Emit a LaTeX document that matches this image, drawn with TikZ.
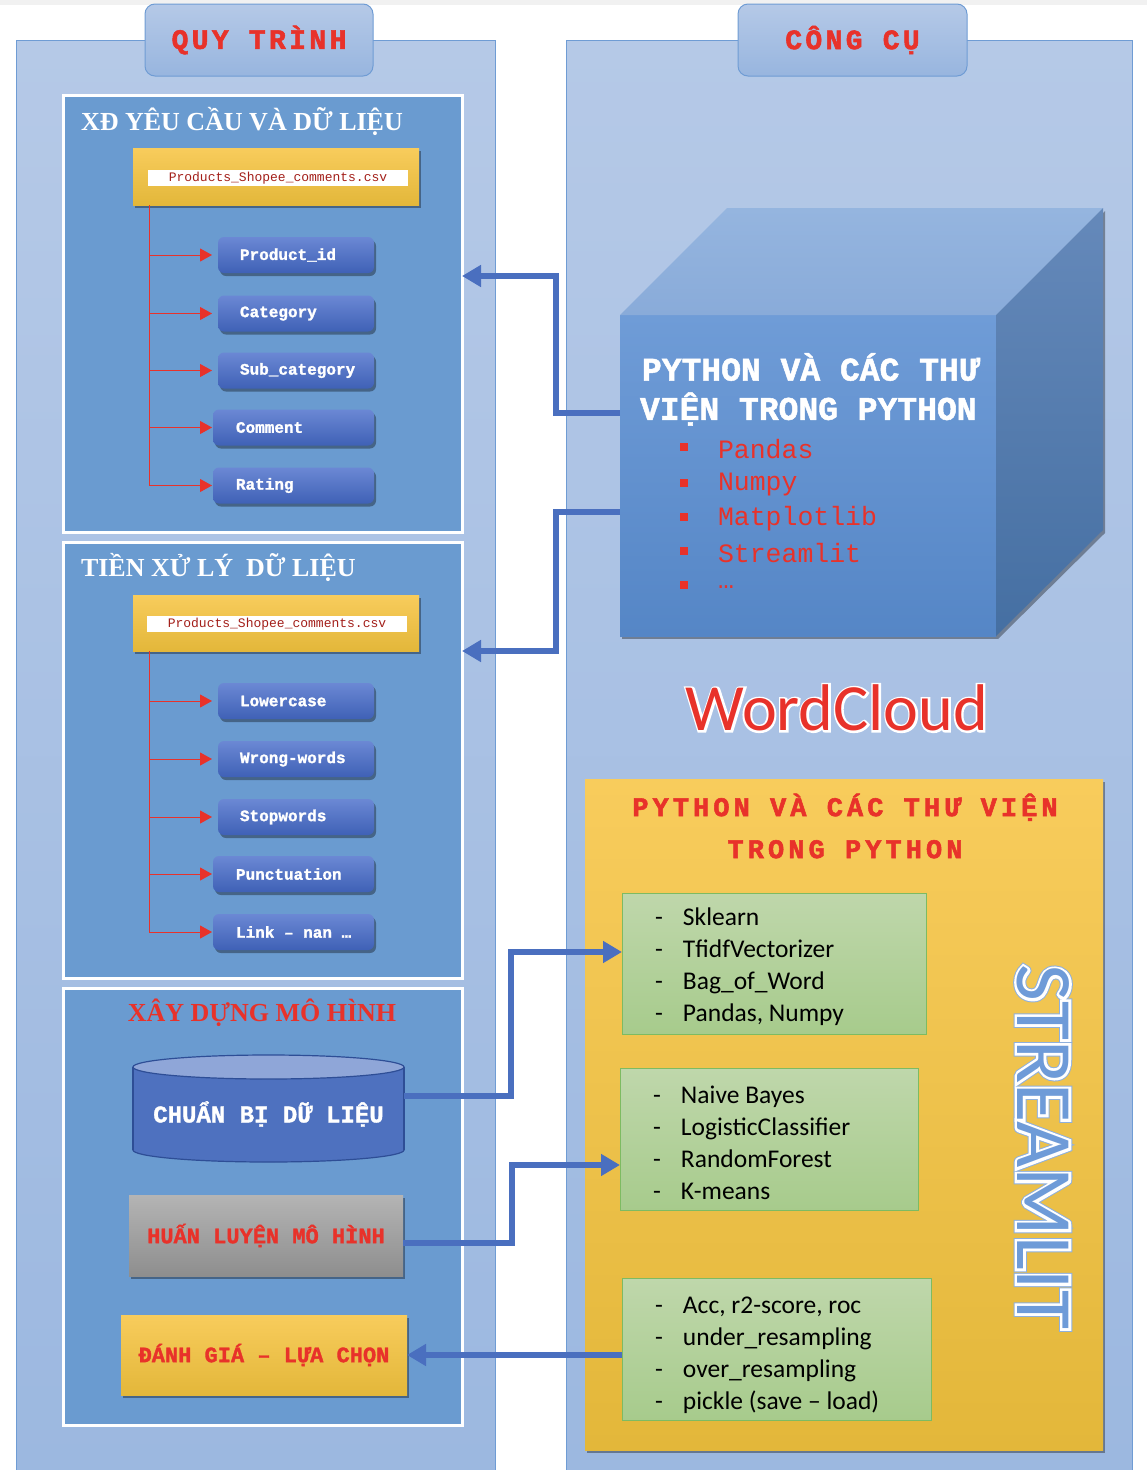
\documentclass[tikz,border=0pt]{standalone}
\usepackage{fontspec}
\setmainfont{Liberation Serif}
\newfontfamily\monof{Liberation Mono}[BoldFeatures={FakeBold=1.5}]
\newfontfamily\monols{Liberation Mono}[LetterSpace=15,BoldFeatures={FakeBold=2}]
\newfontfamily\monohd{Liberation Mono}[LetterSpace=12,BoldFeatures={FakeBold=2}]
\newfontfamily\calib{Carlito}
\newfontfamily\calibwc{Carlito}[FakeBold=6]
\newfontfamily\calibsw{Carlito}[FakeBold=6.5]
\newfontfamily\calibso{Carlito}[FakeBold=9]
\usetikzlibrary{arrows.meta,shadows}
\definecolor{bgstrip}{HTML}{F1F1F1}
\definecolor{panelTop}{HTML}{B5C9E7}
\definecolor{panelBot}{HTML}{9CB8E0}
\definecolor{panelLine}{HTML}{6F9CD4}
\definecolor{innerFill}{HTML}{6A9BD0}
\definecolor{myred}{HTML}{E8322A}
\definecolor{csvred}{HTML}{A31F1A}
\definecolor{yTop}{HTML}{F8CC5C}
\definecolor{yBot}{HTML}{E3B73A}
\definecolor{btnTop}{HTML}{6B88D4}
\definecolor{btnBot}{HTML}{3F61B6}
\definecolor{arrBlue}{HTML}{4A6FBF}
\definecolor{cubeFTop}{HTML}{6F9CD7}
\definecolor{cubeFBot}{HTML}{5586C6}
\definecolor{cubeTTop}{HTML}{95B5DF}
\definecolor{cubeTBot}{HTML}{89ABD9}
\definecolor{cubeRTop}{HTML}{6589BA}
\definecolor{cubeRBot}{HTML}{456FA2}
\definecolor{gTop}{HTML}{BFD7AB}
\definecolor{gBot}{HTML}{A7CB8C}
\definecolor{gLine}{HTML}{7DBB62}
\definecolor{grayTop}{HTML}{B4B4B4}
\definecolor{grayBot}{HTML}{8E8E8E}
\definecolor{cylBody}{HTML}{4E71BF}
\definecolor{cylTop}{HTML}{8FA6D8}
\definecolor{cylLine}{HTML}{2E4E96}
\definecolor{stFill}{HTML}{6E9BD8}
\definecolor{stOut}{HTML}{8FB0DC}
\newcommand\fsz[1]{\fontsize{#1}{#1}\selectfont}
\newcommand\dl{\makebox[28pt][l]{-}}
\tikzset{
  sh/.style={drop shadow={shadow xshift=2pt,shadow yshift=-3pt,opacity=0.35,fill=black}},
  panel/.style={draw=panelLine,line width=1pt,top color=panelTop,bottom color=panelBot},
  hdr/.style={draw=panelLine,line width=1pt,rounded corners=10pt,top color=panelTop,bottom color=panelBot!90!panelLine,text=myred,font=\monohd\bfseries\fsz{28}},
  inbox/.style={draw=white,line width=3pt,fill=innerFill},
  ybox/.style={top color=yTop,bottom color=yBot,sh},
  csvlab/.style={fill=white,minimum width=260pt,minimum height=16pt,text=csvred,font=\monof\fsz{13}},
  btn/.style={rounded corners=6pt,top color=btnTop,bottom color=btnBot,sh,minimum height=36pt,text=white,font=\monof\bfseries\fsz{16}},
  redline/.style={draw=myred,line width=1pt},
  redarr/.style={draw=myred,line width=1pt,-{Triangle[length=12pt,width=13pt]}},
  bluearr/.style={draw=arrBlue,line width=6.5pt,line join=miter,-{Triangle[length=19pt,width=21pt]}},
  gbox/.style={draw=gLine,line width=1pt,top color=gTop,bottom color=gBot},
  gtext/.style={anchor=west,align=left,font=\calib\fontsize{25.5}{32}\selectfont},
  bul/.style={fill=myred,minimum size=8pt},
  lib/.style={anchor=west,text=myred,font=\monof\fsz{26.5}},
  ttl/.style={font=\bfseries\fsz{26}},
}
\begin{document}
\begin{tikzpicture}[x=1pt,y=-1pt,every node/.style={inner sep=0pt,outer sep=0pt}]
\useasboundingbox (0,0) rectangle (1147,1470);
\fill[white] (0,0) rectangle (1147,1470);
\fill[bgstrip] (0,0) rectangle (1147,5);

% panels
\node[panel,minimum width=479pt,minimum height=1432pt] (lp) at (255.5,756) {};
\node[panel,minimum width=566pt,minimum height=1432pt] (rp) at (849,756) {};
\node[hdr,minimum width=228pt,minimum height=72pt] (hl) at (259,40) {QUY TRÌNH};
\node[hdr,minimum width=229pt,minimum height=72pt] (hr) at (852.5,40) {CÔNG CỤ};

% inner boxes
\node[inbox,minimum width=399pt,minimum height=437pt] (box1) at (262.5,313.5) {};
\node[inbox,minimum width=399pt,minimum height=436pt] (box2) at (262.5,760) {};
\node[inbox,minimum width=399pt,minimum height=437pt] (box3) at (262.5,1206.5) {};
\node[ttl,anchor=west,text=white] (t1) at (81,121) {XĐ YÊU CẦU VÀ DỮ LIỆU};
\node[ttl,anchor=west,text=white] (t2) at (81,567) {TIỀN XỬ LÝ\ \ DỮ LIỆU};
\node[ttl,text=myred] (t3) at (262,1013) {XÂY DỰNG MÔ HÌNH};

% file boxes
\node[ybox,minimum width=286pt,minimum height=57pt] (f1) at (276,176.5) {};
\node[csvlab] (f1l) at (278,178) {Products\_Shopee\_comments.csv};
\node[ybox,minimum width=286pt,minimum height=56pt] (f2) at (276,623) {};
\node[csvlab] (f2l) at (277,624) {Products\_Shopee\_comments.csv};

% buttons box1
\node[btn] (b1) at (296,255) {\makebox[156pt][l]{\hspace{22pt}Product\_id}};
\node[btn] (b2) at (296,313.5) {\makebox[156pt][l]{\hspace{22pt}Category}};
\node[btn] (b3) at (296,370.5) {\makebox[156pt][l]{\hspace{22pt}Sub\_category}};
\node[btn] (b4) at (293.5,427.5) {\makebox[161pt][l]{\hspace{23pt}Comment}};
\node[btn] (b5) at (293.5,485.5) {\makebox[161pt][l]{\hspace{23pt}Rating}};
% buttons box2
\node[btn] (c1) at (296,701) {\makebox[156pt][l]{\hspace{22pt}Lowercase}};
\node[btn] (c2) at (296,759) {\makebox[156pt][l]{\hspace{22pt}Wrong-words}};
\node[btn] (c3) at (296,817) {\makebox[156pt][l]{\hspace{22pt}Stopwords}};
\node[btn] (c4) at (293.5,874) {\makebox[161pt][l]{\hspace{23pt}Punctuation}};
\node[btn] (c5) at (293.5,932) {\makebox[161pt][l]{\hspace{23pt}Link – nan …}};

% red trees
\coordinate (tip) at (212,0);
\coordinate (tr1) at ([xshift=16pt]f1.south west);
\draw[redline] (tr1) -- (tr1 |- b5.west);
\foreach \b in {b1,b2,b3,b4,b5}{\draw[redarr] (tr1 |- \b.west) -- (\b.west -| tip);}
\coordinate (tr2) at ([xshift=16pt]f2.south west);
\draw[redline] (tr2) -- (tr2 |- c5.west);
\foreach \b in {c1,c2,c3,c4,c5}{\draw[redarr] (tr2 |- \b.west) -- (\b.west -| tip);}

% cylinder
\filldraw[fill=cylBody,draw=cylLine,line width=1.2pt] (268.5,1150) ellipse [x radius=135.5,y radius=12];
\fill[cylBody] (133,1067) rectangle (404,1150);
\draw[cylLine,line width=1.2pt] (133,1067) -- (133,1150) (404,1067) -- (404,1150);
\filldraw[fill=cylTop,draw=cylLine,line width=1.2pt] (268.5,1067) ellipse [x radius=135.5,y radius=12];
\node[minimum width=271pt,minimum height=60pt] (cyl) at (268.5,1096) {};
\node[text=white,font=\monof\bfseries\fsz{24}] (cyltxt) at (268.5,1114) {CHUẨN BỊ DỮ LIỆU};

% training / evaluation
\node[top color=grayTop,bottom color=grayBot,sh,minimum width=274pt,minimum height=81pt,text=myred,font=\monof\bfseries\fsz{22}] (hb) at (266,1235.5) {HUẤN LUYỆN MÔ HÌNH};
\node[ybox,minimum width=286pt,minimum height=80pt,text=myred,font=\monof\bfseries\fsz{22}] (eb) at (264,1355) {ĐÁNH GIÁ – LỰA CHỌN};

% cube
\node[top color=cubeFTop,bottom color=cubeFBot,sh,minimum width=376pt,minimum height=321pt] (cubef) at (808,475.5) {};
\path[top color=cubeTTop,bottom color=cubeTBot] (620,315) -- (727,208) -- (1103,208) -- (996,315) -- cycle;
\path[top color=cubeRTop,bottom color=cubeRBot,sh] (996,315) -- (1103,208) -- (1103,530) -- (996,636) -- cycle;
\node[anchor=west,text=white,font=\monof\bfseries\fsz{33}] (ct1) at (642,367) {PYTHON VÀ CÁC THƯ};
\node[anchor=west,text=white,font=\monof\bfseries\fsz{33}] (ct2) at (640,409) {VIỆN TRONG PYTHON};
\node[bul] (k1) at (684,447) {};
\node[bul] (k2) at (684,483) {};
\node[bul] (k3) at (684,517) {};
\node[bul] (k4) at (684,551) {};
\node[bul] (k5) at (684,585) {};
\node[lib] (l1) at (718,449) {Pandas};
\node[lib] (l2) at (718,485) {Numpy};
\node[lib] (l3) at (718,519) {Matplotlib};
\node[lib] (l4) at (718,553) {Streamlit};
\node[lib] (l5) at (718,587) {…};

% WordCloud (white outline behind red text)
\node[text=white,font=\calibwc\fsz{66}] (wcw) at (837,708) {WordCloud};
\node[text=myred,font=\calib\fsz{66}] (wc) at (837,708) {WordCloud};

% right yellow box
\node[ybox,minimum width=518pt,minimum height=671pt] (ry) at (844,1114.5) {};
\node[align=center,text=myred,font=\monols\bfseries\fontsize{27}{42}\selectfont] (rt) at (845,826) {PYTHON VÀ CÁC THƯ VIỆN\\TRONG PYTHON};
\node[gbox,minimum width=304pt,minimum height=141pt] (g1) at (774,963.5) {};
\node[gtext] (g1t) at (655,967) {\dl Sklearn\\\dl TfidfVectorizer\\\dl Bag\_of\_Word\\\dl Pandas, Numpy};
\node[gbox,minimum width=298pt,minimum height=142pt] (g2) at (769,1139) {};
\node[gtext] (g2t) at (653,1143) {\dl Naive Bayes\\\dl LogisticClassifier\\\dl RandomForest\\\dl K-means};
\node[gbox,minimum width=309pt,minimum height=142pt] (g3) at (776.5,1349) {};
\node[gtext] (g3t) at (655,1355) {\dl Acc, r2-score, roc\\\dl under\_resampling\\\dl over\_resampling\\\dl pickle (save – load)};

% STREAMLIT
\node[rotate=-90,text=stOut,font=\calibso\fsz{80}] (sto) at (1043,1147) {STREAMLIT};
\node[rotate=-90,text=white,font=\calibsw\fsz{80}] (stw) at (1043,1147) {STREAMLIT};
\node[rotate=-90,text=stFill,font=\calib\fsz{80}] (st) at (1043,1147) {STREAMLIT};

% blue connectors
\draw[bluearr] (cubef.west |- 0,413) -- (556,413) -- (556,276) -- (box1.east |- 0,276);
\draw[bluearr] (cubef.west |- 0,512) -- (556,512) -- (556,651) -- (box2.east |- 0,651);
\draw[bluearr] (cyl.east) -- (511,1096) -- (511,952) -- (g1.west |- 0,952);
\draw[bluearr] (hb.east |- 0,1243) -- (512,1243) -- (512,1165) -- (g2.west |- 0,1165);
\draw[bluearr] (g3.west |- eb.east) -- (eb.east);
\end{tikzpicture}
\end{document}
